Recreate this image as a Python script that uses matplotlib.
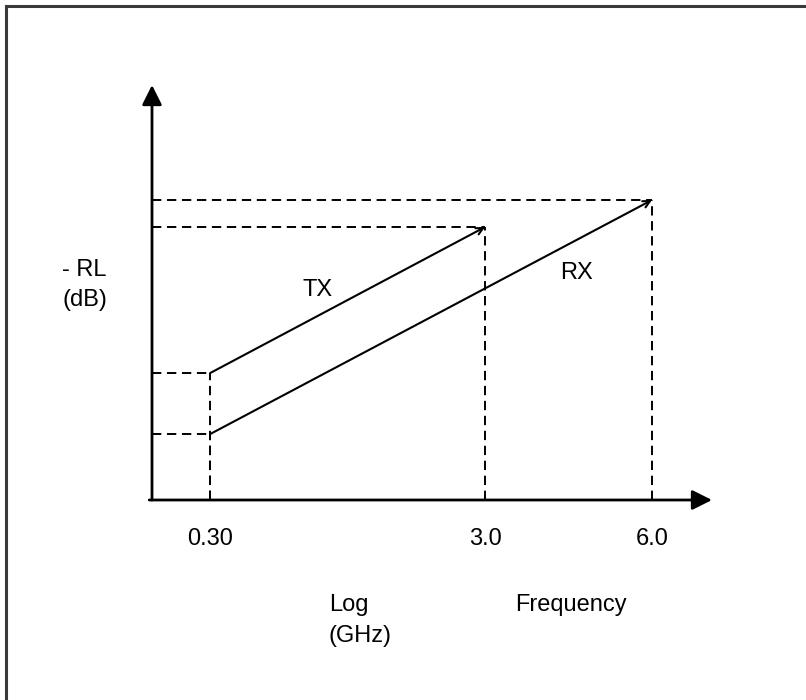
import matplotlib.pyplot as plt

plt.rcParams['font.family'] = ['Liberation Sans', 'DejaVu Sans']

# schematic return-loss template, x = log frequency (axis units), y = -RL (axis units)
freq_labels = ['0.30', '3.0', '6.0']
freq_pos = [1.04, 5.95, 8.93]

tx_x = [1.04, 5.95]
tx_rl = [3.06, 6.58]
rx_x = [1.04, 8.93]
rx_rl = [1.59, 7.23]

W, H = 806, 700
fig = plt.figure(figsize=(W / 100, H / 100), dpi=100)
fig.patch.set_facecolor('white')


def px(x, y):
    return x / W, 1 - y / H


# outer frame (runs off the right and bottom edge)
fig.add_artist(plt.Line2D([6 / W, 1.01], [1 - 6 / H, 1 - 6 / H], color='#3a3a3a', lw=2.2))
fig.add_artist(plt.Line2D([6 / W, 6 / W], [1 - 6 / H, -0.01], color='#3a3a3a', lw=2.2))

ax = fig.add_axes([152 / W, 200 / H, 560 / W, 415 / H])
ax.set_xlim(0, 10)
ax.set_ylim(0, 10)
ax.axis('off')

# axes with arrow heads
head = '-|>,head_length=0.6,head_width=0.3'
ax.annotate('', xy=(1, 0), xytext=(-0.005, 0), xycoords='axes fraction',
            arrowprops=dict(arrowstyle=head, lw=2, color='k', mutation_scale=20,
                            shrinkA=0, shrinkB=0))
ax.annotate('', xy=(0, 1), xytext=(0, 0), xycoords='axes fraction',
            arrowprops=dict(arrowstyle=head, lw=2, color='k', mutation_scale=20,
                            shrinkA=0, shrinkB=0))

dash = (0, (4.8, 2.9))
dkw = dict(color='k', lw=1.4, linestyle=dash)

# dashed guide lines
for xs, ys in [(tx_x, tx_rl), (rx_x, rx_rl)]:
    for x, y in zip(xs, ys):
        ax.plot([0, x], [y, y], **dkw)
        ax.plot([x, x], [0, y], **dkw)

# TX and RX limit lines
for xs, ys in [(tx_x, tx_rl), (rx_x, rx_rl)]:
    ax.annotate('', xy=(xs[1], ys[1]), xytext=(xs[0], ys[0]),
                arrowprops=dict(arrowstyle='->,head_length=0.5,head_width=0.25',
                                lw=1.5, color='k', mutation_scale=10,
                                shrinkA=0, shrinkB=0))

fs = 17
for lab, x in zip(freq_labels, freq_pos):
    ax.text(x, -0.95, lab, ha='center', va='center', fontsize=fs)

fig.text(*px(318, 290), 'TX', ha='center', va='center', fontsize=fs)
fig.text(*px(576, 273), 'RX', ha='center', va='center', fontsize=fs)
fig.text(*px(62, 270), '- RL', ha='left', va='center', fontsize=fs)
fig.text(*px(62, 300), '(dB)', ha='left', va='center', fontsize=fs)
fig.text(*px(329, 605), 'Log', ha='left', va='center', fontsize=fs)
fig.text(*px(329, 636), '(GHz)', ha='left', va='center', fontsize=fs)
fig.text(*px(515, 605), 'Frequency', ha='left', va='center', fontsize=fs)

fig.savefig('out.png', dpi=100, facecolor='white')
